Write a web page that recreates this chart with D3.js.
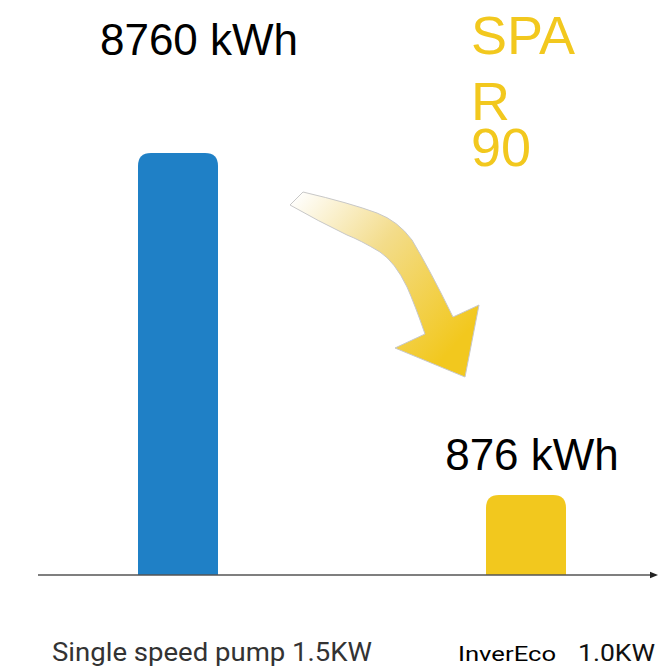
<!DOCTYPE html>
<html>
<head>
<meta charset="utf-8">
<script src="https://cdn.jsdelivr.net/npm/d3@7"></script>
<style>
  body { margin: 0; background: #fff; }
  svg { display: block; }
</style>
</head>
<body>
<svg width="660" height="670"></svg>
<script>
// data
const categories = ["Single speed pump 1.5KW", "InverEco 1.0KW"];
const energy = [8760, 876];
const valueLabels = ["8760 kWh", "876 kWh"];
const badge = ["SPA", "R", "90"];

const colors = ["#1f80c6", "#f2c81e"];
const baseY = 575;

const svg = d3.select("svg");

const x = d3.scalePoint()
    .domain(categories)
    .range([178, 526]);

// bars are not proportional in the original, so map the two values onto their drawn heights
const y = d3.scaleLinear()
    .domain([876, 8760])
    .range([495, 153]);

const barW = 80, r = 13;

function roundTop(x0, y0, w, h) {
    return `M${x0},${y0 + h}V${y0 + r}Q${x0},${y0} ${x0 + r},${y0}H${x0 + w - r}Q${x0 + w},${y0} ${x0 + w},${y0 + r}V${y0 + h}Z`;
}

svg.selectAll(".bar")
    .data(energy)
    .enter()
    .append("path")
    .classed("bar", true)
    .attr("fill", (d, i) => colors[i])
    .attr("d", (d, i) => roundTop(x(categories[i]) - barW / 2, y(d), barW, baseY - y(d)));

// axis line with arrow
const defs = svg.append("defs");
defs.append("marker")
    .attr("id", "tip")
    .attr("viewBox", "0 0 10 10")
    .attr("refX", 5).attr("refY", 5)
    .attr("markerWidth", 5).attr("markerHeight", 5)
    .attr("orient", "auto")
    .append("path")
    .attr("d", "M0,1L10,5L0,9Z")
    .attr("fill", "#222");

svg.append("line")
    .attr("x1", 38).attr("x2", 654)
    .attr("y1", baseY).attr("y2", baseY)
    .attr("stroke", "#555")
    .attr("stroke-width", 1.6)
    .attr("marker-end", "url(#tip)");

// value labels above bars
svg.selectAll(".val")
    .data(valueLabels)
    .enter()
    .append("text")
    .classed("val", true)
    .attr("x", (d, i) => x(categories[i]) + (i === 0 ? 21 : 6))
    .attr("y", (d, i) => i === 0 ? 55 : 470)
    .attr("text-anchor", "middle")
    .attr("font-family", "Liberation Sans, Arial, sans-serif")
    .attr("font-size", 44)
    .attr("fill", "#000")
    .text(d => d);

// category labels
svg.append("text")
    .attr("x", 52).attr("y", 661)
    .attr("font-family", "Roboto, sans-serif")
    .attr("font-size", 25)
    .attr("fill", "#333")
    .attr("textLength", 320)
    .attr("lengthAdjust", "spacingAndGlyphs")
    .text(categories[0]);

svg.append("text")
    .attr("x", 458).attr("y", 661)
    .attr("font-family", "Roboto, sans-serif")
    .attr("font-size", 20)
    .attr("fill", "#000")
    .attr("textLength", 98)
    .attr("lengthAdjust", "spacingAndGlyphs")
    .text(categories[1].split(" ")[0]);

svg.append("text")
    .attr("x", 578).attr("y", 661)
    .attr("font-family", "Roboto, sans-serif")
    .attr("font-size", 23)
    .attr("fill", "#111")
    .attr("textLength", 77)
    .attr("lengthAdjust", "spacingAndGlyphs")
    .text(categories[1].split(" ")[1]);

// yellow badge text
svg.selectAll(".badge")
    .data(badge)
    .enter()
    .append("text")
    .classed("badge", true)
    .attr("x", 471)
    .attr("y", (d, i) => [54, 120, 166][i])
    .attr("font-family", "Liberation Sans, Arial, sans-serif")
    .attr("font-size", 54)
    .attr("fill", colors[1])
    .text(d => d);

// curved gradient arrow
const grad = defs.append("linearGradient")
    .attr("id", "arrowGrad")
    .attr("gradientUnits", "userSpaceOnUse")
    .attr("x1", 290).attr("y1", 200)
    .attr("x2", 455).attr("y2", 345);
grad.append("stop").attr("offset", 0).attr("stop-color", "#ffffff");
grad.append("stop").attr("offset", 0.45).attr("stop-color", "#f3dc8a");
grad.append("stop").attr("offset", 1).attr("stop-color", "#f2c81e");

const arrowPath = "M290,205 L303,192 Q350,203 377,213 Q398,221 412,240 Q430,270 453,317 L479,305 L465,377 L395,348 L425,334 Q415,305 407,287 Q395,262 380,252 Q360,240 347,235 Q318,221 290,205 Z";

svg.append("path")
    .attr("d", arrowPath)
    .attr("fill", "url(#arrowGrad)")
    .attr("stroke", "#c8c8c8")
    .attr("stroke-width", 1);
</script>
</body>
</html>
